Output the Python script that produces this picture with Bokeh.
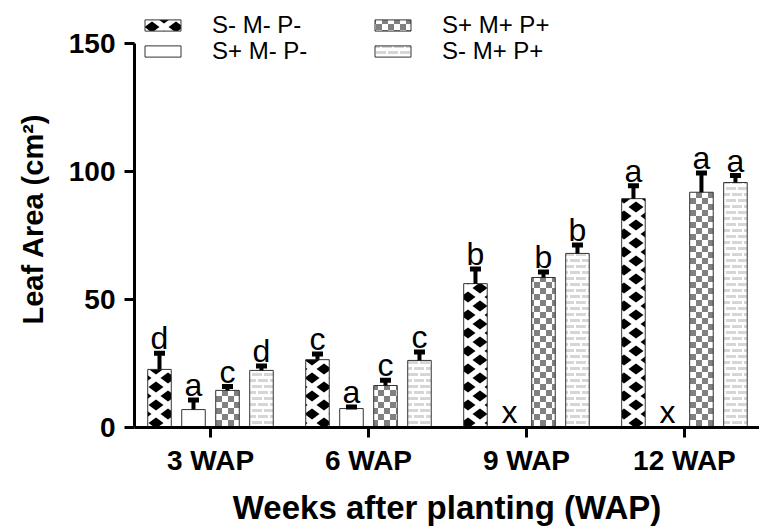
import math
from bokeh.plotting import figure
from bokeh.models import (ColumnDataSource, Range1d, FixedTicker, Legend, LegendItem,
                          CanvasTexture)
from bokeh.core.properties import value
from bokeh.embed import file_html
from bokeh.resources import INLINE

# ---------------- data ----------------
weeks = ["3 WAP", "6 WAP", "9 WAP", "12 WAP"]
series = ["S- M- P-", "S+ M- P-", "S+ M+ P+", "S- M+ P+"]

leaf_smp_neg = [22.7, 26.5, 56.2, 89.4]          # S- M- P-
leaf_s_pos_only = [7.0, 7.4, None, None]          # S+ M- P-
leaf_all_pos = [14.5, 16.4, 58.6, 91.9]           # S+ M+ P+
leaf_s_neg_mp_pos = [22.3, 26.2, 68.0, 95.7]      # S- M+ P+

err_smp_neg = [6.3, 2.2, 5.7, 5.0]
err_s_pos_only = [3.7, 0.6, None, None]
err_all_pos = [1.5, 2.1, 2.1, 7.5]
err_s_neg_mp_pos = [1.7, 3.3, 3.3, 2.7]

let_smp_neg = ["d", "c", "b", "a"]
let_s_pos_only = ["a", "a", "x", "x"]
let_all_pos = ["c", "c", "b", "a"]
let_s_neg_mp_pos = ["d", "c", "b", "a"]

y_ticks = [0, 50, 100, 150]

values = [leaf_smp_neg, leaf_s_pos_only, leaf_all_pos, leaf_s_neg_mp_pos]
errors = [err_smp_neg, err_s_pos_only, err_all_pos, err_s_neg_mp_pos]
letters = [let_smp_neg, let_s_pos_only, let_all_pos, let_s_neg_mp_pos]

# ---------------- textures ----------------
tex_cross = CanvasTexture(code="""
ctx.canvas.width = 24; ctx.canvas.height = 18;
ctx.fillStyle = 'white'; ctx.fillRect(0, 0, 24, 18);
ctx.fillStyle = 'black';
function d(cx, cy) {
  ctx.beginPath();
  ctx.moveTo(cx - 7.5, cy); ctx.lineTo(cx, cy - 5.5);
  ctx.lineTo(cx + 7.5, cy); ctx.lineTo(cx, cy + 5.5);
  ctx.closePath(); ctx.fill();
}
d(12, 9); d(0, 0); d(24, 0); d(0, 18); d(24, 18);
""")
tex_checker = CanvasTexture(code="""
ctx.canvas.width = 12; ctx.canvas.height = 12;
ctx.fillStyle = 'white'; ctx.fillRect(0, 0, 12, 12);
ctx.fillStyle = '#808080';
ctx.fillRect(0, 0, 6, 6); ctx.fillRect(6, 6, 6, 6);
""")
tex_brick = CanvasTexture(code="""
ctx.canvas.width = 12; ctx.canvas.height = 12;
ctx.fillStyle = 'white'; ctx.fillRect(0, 0, 12, 12);
ctx.fillStyle = '#d6d6d6';
ctx.fillRect(0, 1, 10, 3);
ctx.fillRect(6, 7, 6, 3); ctx.fillRect(0, 7, 4, 3);
""")
patterns = [("xcross", tex_cross), (None, None), ("checker", tex_checker), ("brick", tex_brick)]

# ---------------- figure ----------------
p = figure(width=759, height=529, output_backend="svg", toolbar_location=None,
           x_range=Range1d(-0.481, 3.475), y_range=Range1d(0, 162.9),
           min_border_left=134, min_border_right=0, min_border_top=10,
           min_border_bottom=102)
p.outline_line_color = None
p.xgrid.visible = False
p.ygrid.visible = False
p.background_fill_color = "white"
p.border_fill_color = "white"

step = 0.2152
bar_w = 0.149
renderers = []
for si in range(4):
    xs, tops, caps, labs = [], [], [], []
    mx, ml = [], []
    for gi in range(4):
        xpos = gi + (si - 1.5) * step
        v = values[si][gi]
        if v is None:
            mx.append(xpos)
            ml.append(letters[si][gi])
            continue
        xs.append(xpos)
        tops.append(v)
        caps.append(v + errors[si][gi])
        labs.append(letters[si][gi])
    src = ColumnDataSource(dict(x=xs, top=tops, cap=caps, lab=labs))
    name, tex = patterns[si]
    kw = {}
    if name is not None:
        kw = dict(hatch_pattern=value(name), hatch_extra={name: tex}, hatch_alpha=1.0)
    r = p.vbar(x="x", top="top", bottom=0, width=bar_w, source=src,
               fill_color="white", line_color="#333333", line_width=1, **kw)
    renderers.append(r)
    p.segment(x0="x", y0="top", x1="x", y1="cap", source=src,
              line_color="black", line_width=4)
    p.rect(x="x", y="cap", width=11, height=5, width_units="screen",
           height_units="screen", source=src, fill_color="black", line_color=None)
    p.text(x="x", y="cap", text="lab", source=src, text_align="center",
           text_baseline="bottom", y_offset=3,
           text_font=value("Liberation Sans"), text_font_size="32px", text_color="black")
    if mx:
        msrc = ColumnDataSource(dict(x=mx, y=[0] * len(mx), lab=ml))
        p.text(x="x", y="y", text="lab", source=msrc, text_align="center",
               text_baseline="bottom", y_offset=2,
               text_font=value("Liberation Sans"), text_font_size="32px", text_color="black")

# ---------------- axes ----------------
ya = p.yaxis[0]
ya.ticker = FixedTicker(ticks=y_ticks)
ya.bounds = (0, 150)
ya.axis_label = "Leaf Area (cm²)"
ya.axis_label_text_font = "Liberation Sans"
ya.axis_label_text_font_style = "bold"
ya.axis_label_text_font_size = "29px"
ya.axis_label_text_color = "black"
ya.axis_label_standoff = 17
ya.major_label_text_font = "Liberation Sans"
ya.major_label_text_font_style = "bold"
ya.major_label_text_font_size = "28px"
ya.major_label_text_color = "black"
ya.major_label_standoff = 9
ya.axis_line_width = 3
ya.major_tick_line_width = 3
ya.major_tick_out = 10
ya.major_tick_in = 0
ya.minor_tick_line_color = None

xa = p.xaxis[0]
xa.ticker = FixedTicker(ticks=[0, 1, 2, 3])
xa.major_label_overrides = {i: w for i, w in enumerate(weeks)}
xa.axis_label = "Weeks after planting (WAP)"
xa.axis_label_text_font = "Liberation Sans"
xa.axis_label_text_font_style = "bold"
xa.axis_label_text_font_size = "33px"
xa.axis_label_text_color = "black"
xa.axis_label_standoff = 10
xa.major_label_text_font = "Liberation Sans"
xa.major_label_text_font_style = "bold"
xa.major_label_text_font_size = "28px"
xa.major_label_text_color = "black"
xa.major_label_standoff = 7
xa.axis_line_width = 3
xa.major_tick_line_width = 3
xa.major_tick_out = 10
xa.major_tick_in = 0
xa.minor_tick_line_color = None

# ---------------- legend (one entry per legend for exact row pitch) ----------------
def make_legend(label, rend, loc):
    return Legend(items=[LegendItem(label=label, renderers=[rend])], location=loc,
                  glyph_width=45, glyph_height=14, label_standoff=27,
                  label_text_font="Liberation Sans", label_text_font_size="24px",
                  label_text_color="black", label_height=14,
                  spacing=0, padding=0, margin=0,
                  border_line_color=None, background_fill_alpha=0)

legend_pos = [(6, 388), (6, 362), (236, 388), (236, 362)]
for k in range(4):
    p.add_layout(make_legend(series[k], renderers[k], legend_pos[k]))

open("out.html", "w").write(file_html(p, INLINE))
